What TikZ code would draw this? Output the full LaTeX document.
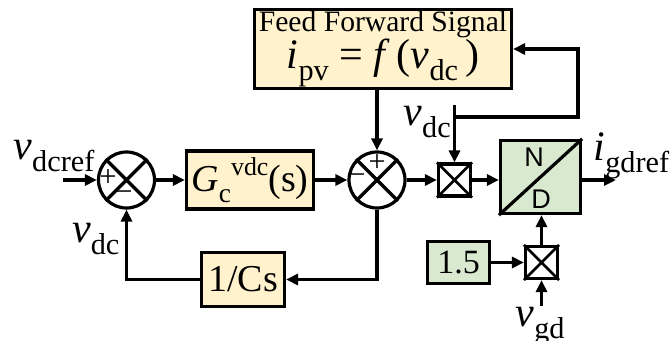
\documentclass[tikz,border=0pt]{standalone}
\usepackage{fontspec}
\setmainfont{Liberation Serif}
\newfontfamily\arialf{Liberation Sans}
\usetikzlibrary{arrows.meta}
\newcommand{\sbs}[1]{\raisebox{-0.3em}{\scalebox{0.72}{#1}}}
\newcommand{\sps}[1]{\raisebox{0.42em}{\scalebox{0.68}{#1}}}
\definecolor{beige}{RGB}{255,242,204}
\definecolor{lgreen}{RGB}{216,233,208}
\begin{document}
\begin{tikzpicture}[x=1pt,y=-1pt,line width=3.2pt,
  >={Triangle[length=12pt,width=11pt]},
  blk/.style={draw,fill=beige,inner sep=0pt},
  gblk/.style={draw,fill=lgreen,inner sep=0pt},
  sumc/.style={circle,draw,fill=white,minimum size=56pt,inner sep=0pt},
  mulb/.style={draw,fill=white,minimum size=32pt,inner sep=0pt},
  lbl/.style={inner sep=0pt},
  sgn/.style={inner sep=0pt,font=\fontsize{30}{30}\selectfont},
  vlab/.style={inner sep=0pt,font=\fontsize{42}{42}\selectfont}]
\useasboundingbox (0,0) rectangle (671,340);

% blocks
\node[sumc] (s1) at (126.5,180) {};
\draw (s1.45) -- (s1.225) (s1.135) -- (s1.315);
\node[sgn] (s1p) at (108,178) {+};
\node[sgn] (s1m) at (124,196) {−};

\node[blk,minimum width=127pt,minimum height=58pt] (gc) at (250,180)
  {\fontsize{38}{38}\selectfont\textit{G}\sbs{c}\sps{vdc}(s)};

\node[sumc] (s2) at (377,180) {};
\draw (s2.45) -- (s2.225) (s2.135) -- (s2.315);
\node[sgn] (s2p) at (377,163) {+};
\node[sgn] (s2m) at (357,179) {−};

\node[mulb] (m1) at (454.5,180) {};
\draw[line width=2.6pt] (m1.north west) -- (m1.south east) (m1.north east) -- (m1.south west);

\node[gblk,minimum width=80pt,minimum height=73pt] (nd) at (540.5,177) {};
\draw (nd.south west) -- (nd.north east);
\node[lbl,font=\arialf\fontsize{27}{27}\selectfont] (nN) at (534,157) {N};
\node[lbl,font=\arialf\fontsize{27}{27}\selectfont] (nD) at (541,199) {D};

\node[blk,minimum width=83pt,minimum height=54pt] (cs) at (243,279.5)
  {\fontsize{38}{38}\selectfont 1/Cs};

\node[blk,minimum width=257pt,minimum height=79pt,align=center,
  font=\fontsize{29.6}{34}\selectfont] (ff) at (383,49)
  {Feed Forward Signal\\
   \fontsize{42}{34}\selectfont\textit{i}\sbs{pv}\hspace{0.25em}=\hspace{0.25em}\textit{f}\,(\textit{v}\sbs{dc}\,)};

\node[gblk,minimum width=62pt,minimum height=42pt] (one) at (458.5,262.5)
  {\fontsize{34}{34}\selectfont 1.5};

\node[mulb] (m2) at (541.5,262.5) {};
\draw[line width=2.6pt] (m2.north west) -- (m2.south east) (m2.north east) -- (m2.south west);

% coordinates
\coordinate (in) at (63,180);
\coordinate (out) at (616,180);
\coordinate (tap) at (454.5,105);
\coordinate (j) at (454.5,117);
\coordinate (c1) at (578,117);
\coordinate (vg) at (541.5,306);

% connectors
\draw[->] (in) -- (s1.west);
\draw[->] (s1.east) -- (gc.west);
\draw[->] (gc.east) -- (s2.west);
\draw[->] (s2.north |- ff.south) -- (s2.north);
\draw[->] (s2.east) -- (m1.west);
\draw[->] (m1.east) -- (m1.east -| nd.west);
\draw[->] (nd.east |- out) -- (out);
\draw[->] (s2.south) |- (cs.east);
\draw[->] (cs.west) -| (s1.south);
\draw[->] (tap) -- (m1.north);
\draw[->] (j) -- (c1) |- (ff.east);
\draw[->] (one.east) -- (m2.west);
\draw[->] (m2.north) -- (m2.north |- nd.south);
\draw[->] (vg) -- (m2.south);

% labels
\node[vlab,anchor=base west] (lref) at (12,159) {\textit{v}\sbs{dcref}};
\node[vlab,anchor=base east] (ldc1) at (121,242) {\textit{v}\sbs{dc}};
\node[vlab,anchor=base west] (ldc2) at (402,125) {\textit{v}\sbs{dc}};
\node[vlab,anchor=base west] (lig) at (592,160) {\textit{i}\sbs{gdref}};
\node[vlab,anchor=base west] (lvg) at (514,326) {\textit{v}\sbs{gd}};
\end{tikzpicture}
\end{document}
